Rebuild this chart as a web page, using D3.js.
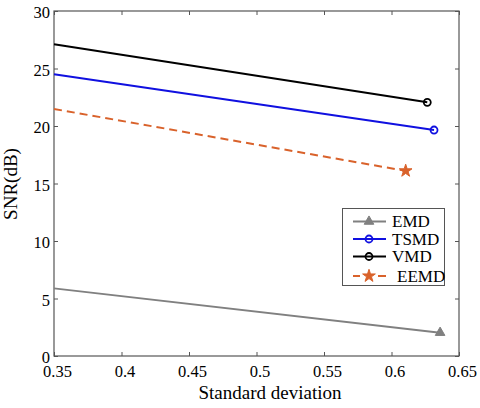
<!DOCTYPE html>
<html>
<head>
<meta charset="utf-8">
<script src="https://cdn.jsdelivr.net/npm/d3@7"></script>
<style>
body { margin: 0; background: #fff; }
svg text { font-family: 'Liberation Serif', 'Times New Roman', 'DejaVu Serif', serif !important; }
</style>
</head>
<body>
<div id="chart"></div>
<script>
var xTicks = [0.35, 0.4, 0.45, 0.5, 0.55, 0.6, 0.65];
var yTicks = [0, 5, 10, 15, 20, 25, 30];

var seriesNames = ["EMD", "TSMD", "VMD", "EEMD"];
var emdX = [0.35, 0.636], emdY = [5.88, 2.03];
var tsmdX = [0.35, 0.6315], tsmdY = [24.5, 19.65];
var vmdX = [0.35, 0.6265], vmdY = [27.1, 22.06];
var eemdX = [0.35, 0.6105], eemdY = [21.48, 16.1];

var series = [
    { name: seriesNames[0], xs: emdX, ys: emdY, color: "#808080", dash: null, marker: "triangle" },
    { name: seriesNames[1], xs: tsmdX, ys: tsmdY, color: "#1010e0", dash: null, marker: "circle" },
    { name: seriesNames[2], xs: vmdX, ys: vmdY, color: "#000000", dash: null, marker: "circle" },
    { name: seriesNames[3], xs: eemdX, ys: eemdY, color: "#d9622b", dash: "8,5", marker: "star" }
];

var width = 480, height = 408;
var padL = 54, padR = 459, padT = 11, padB = 356;

var svg = d3.select("#chart").append("svg")
    .attr("width", width)
    .attr("height", height);

var xScale = d3.scaleLinear().domain([0.35, 0.65]).range([padL, padR]);
var yScale = d3.scaleLinear().domain([0, 30]).range([padB, padT]);

// frame
svg.append("rect")
    .attr("x", padL).attr("y", padT)
    .attr("width", padR - padL).attr("height", padB - padT)
    .attr("fill", "none").attr("stroke", "#555").attr("stroke-width", 1.2);

var xAxis = d3.axisBottom(xScale).tickValues(xTicks).tickSizeInner(-4).tickSizeOuter(0)
    .tickFormat(function (d) { return String(+d.toFixed(2)); }).tickPadding(9);
svg.append("g")
    .attr("class", "axis xaxis")
    .attr("transform", "translate(0," + padB + ")")
    .call(xAxis);
svg.selectAll(".xaxis text").attr("dx", 3);

svg.append("g")
    .attr("transform", "translate(0," + padT + ")")
    .call(d3.axisTop(xScale).tickValues(xTicks).tickSizeInner(-4).tickSizeOuter(0).tickFormat(""));

var yAxis = d3.axisLeft(yScale).tickValues(yTicks).tickSizeInner(-4).tickSizeOuter(0).tickPadding(4);
svg.append("g")
    .attr("class", "axis yaxis")
    .attr("transform", "translate(" + padL + ",0)")
    .call(yAxis);
svg.selectAll(".yaxis text").attr("dy", "0.42em");

svg.append("g")
    .attr("transform", "translate(" + padR + ",0)")
    .call(d3.axisRight(yScale).tickValues(yTicks).tickSizeInner(-4).tickSizeOuter(0).tickFormat(""));

svg.selectAll(".domain").remove();
svg.selectAll(".tick line").attr("stroke", "#555");
svg.selectAll(".axis text")
    .attr("fill", "#000")
    .attr("font-family", null)
    .style("font-size", "16.5px");

// lines
var line = d3.line()
    .x(function (d) { return xScale(d[0]); })
    .y(function (d) { return yScale(d[1]); });

function drawMarker(g, type, x, y, color) {
    if (type === "triangle") {
        g.append("path")
            .attr("d", d3.symbol().type(d3.symbolTriangle).size(40)())
            .attr("transform", "translate(" + x + "," + y + ")")
            .attr("fill", color).attr("stroke", color);
    } else if (type === "circle") {
        g.append("circle")
            .attr("cx", x).attr("cy", y).attr("r", 3.5)
            .attr("fill", "none").attr("stroke", color).attr("stroke-width", 1.8);
    } else {
        g.append("path")
            .attr("d", d3.symbol().type(d3.symbolStar).size(50)())
            .attr("transform", "translate(" + x + "," + y + ")")
            .attr("fill", color).attr("stroke", color);
    }
}

series.forEach(function (s) {
    var pts = s.xs.map(function (x, i) { return [x, s.ys[i]]; });
    svg.append("path")
        .datum(pts)
        .attr("d", line)
        .attr("fill", "none")
        .attr("stroke", s.color)
        .attr("stroke-width", 2)
        .attr("stroke-dasharray", s.dash);
    var last = pts[pts.length - 1];
    drawMarker(svg, s.marker, xScale(last[0]), yScale(last[1]), s.color);
});

// legend
var legend = svg.append("g");
legend.append("rect")
    .attr("x", 342.5).attr("y", 208.5)
    .attr("width", 102).attr("height", 77)
    .attr("fill", "#fff").attr("stroke", "#555").attr("stroke-width", 1);
var legendY = [221.5, 239, 256.5, 276];
var legendTextX = [392, 392, 392, 397];
series.forEach(function (s, i) {
    var y = legendY[i];
    legend.append("line")
        .attr("x1", 353).attr("x2", 386).attr("y1", y).attr("y2", y)
        .attr("stroke", s.color).attr("stroke-width", 2)
        .attr("stroke-dasharray", s.dash ? "7,18,8" : null);
    drawMarker(legend, s.marker, 369, y, s.color);
    legend.append("text")
        .attr("x", legendTextX[i]).attr("y", y + 5.5)
        .style("font-size", "17px")
        .attr("fill", "#000")
        .text(s.name);
});

// labels
svg.append("text")
    .attr("x", 270).attr("y", 399)
    .attr("text-anchor", "middle")
    .style("font-size", "19px")
    .text("Standard deviation");

svg.append("text")
    .attr("transform", "translate(17,184) rotate(-90)")
    .attr("text-anchor", "middle")
    .style("font-size", "19px")
    .text("SNR(dB)");
</script>
</body>
</html>
